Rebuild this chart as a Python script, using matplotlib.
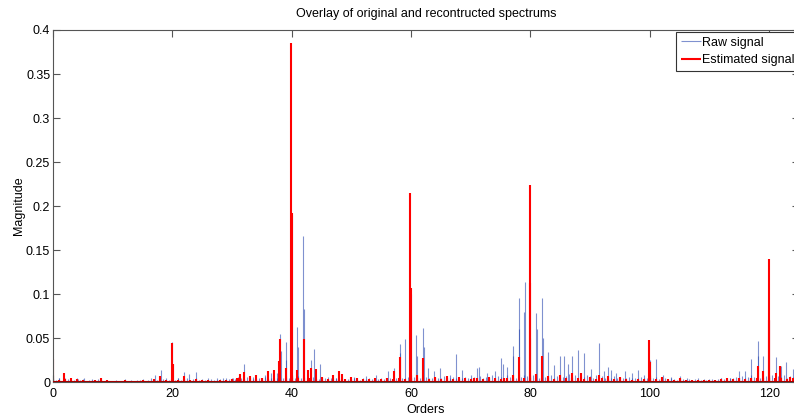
import matplotlib
matplotlib.use('Agg')
import matplotlib.pyplot as plt
import numpy as np

plt.rcParams['font.family'] = ['Liberation Sans', 'DejaVu Sans']
plt.rcParams['font.size'] = 9

# raw signal: noise floor every 0.5 order (in 1e-3 units), then the visible spikes
raw_floor_milli = [
    3, 2, 4, 1, 2, 3, 1, 2, 4, 2, 3, 1, 2, 2, 1, 3, 2, 1, 2, 1,
    1, 2, 1, 1, 2, 1, 2, 1, 1, 2, 3, 1, 2, 4, 3, 2, 5, 3, 4, 2,
    3, 2, 4, 2, 3, 5, 2, 3, 4, 2, 3, 2, 2, 3, 2, 2, 3, 4, 2, 3,
    4, 3, 5, 4, 3, 6, 4, 3, 5, 4, 3, 6, 5, 4, 3, 5, 6, 4, 7, 5,
    6, 5, 7, 4, 6, 5, 4, 6, 5, 3, 4, 5, 3, 4, 3, 4, 3, 4, 2, 3,
    3, 4, 3, 2, 4, 3, 4, 3, 5, 3, 4, 3, 4, 5, 3, 4, 6, 5, 4, 6,
    5, 6, 7, 5, 4, 6, 5, 4, 6, 5, 4, 7, 5, 4, 6, 5, 4, 5, 6, 4,
    5, 6, 4, 7, 5, 6, 4, 8, 5, 7, 6, 5, 8, 6, 7, 5, 9, 6, 8, 7,
    6, 8, 7, 5, 9, 6, 7, 8, 5, 7, 8, 6, 7, 9, 6, 8, 5, 7, 6, 8,
    7, 5, 8, 6, 7, 5, 6, 4, 7, 5, 6, 4, 5, 6, 4, 5, 4, 6, 5, 4,
    5, 4, 6, 3, 4, 5, 3, 4, 3, 2, 4, 3, 2, 3, 2, 3, 2, 2, 3, 2,
    2, 3, 2, 3, 4, 3, 4, 5, 4, 6, 5, 7, 5, 6, 8, 6, 7, 5, 6, 7,
    6, 8, 5, 7, 6, 8, 5, 7, 6, 5,
]
raw_peak_orders = [
    0.0, 1.0, 2.0, 4.2, 5.2, 6.5, 8.1, 12.0, 14.0, 17.1,
    18.1, 19.9, 20.05, 21.0, 21.9, 22.8, 23.9, 26.0, 27.5, 29.0,
    30.2, 31.0, 32.0, 33.5, 35.5, 36.6, 37.5, 38.0, 38.2, 39.0,
    39.1, 40.0, 40.9, 41.0, 41.9, 42.0, 43.2, 43.8, 44.7, 46.0,
    47.5, 48.5, 50.5, 52.5, 54.1, 56.1, 57.1, 58.1, 58.2, 59.0,
    60.0, 60.9, 61.0, 62.0, 62.1, 62.9, 63.8, 64.9, 66.5, 67.6,
    68.6, 70.0, 71.1, 71.4, 72.8, 74.0, 75.0, 75.4, 76.0, 77.0,
    77.1, 78.0, 78.1, 79.1, 79.0, 80.0, 81.0, 81.1, 82.0, 82.1,
    82.9, 83.9, 84.9, 85.6, 86.3, 87.0, 88.0, 89.0, 90.2, 91.5,
    92.4, 93.0, 93.5, 94.4, 95.9, 97.0, 98.0, 99.0, 100.0, 101.0,
    102.2, 103.5, 105.0, 106.3, 108.0, 110.0, 112.0, 113.5, 115.0, 115.9,
    117.0, 118.1, 118.2, 119.0, 120.0, 121.1, 122.0, 122.9, 124.0,
]
raw_peak_mags = [
    0.005, 0.004, 0.005, 0.003, 0.005, 0.003, 0.005, 0.003, 0.002, 0.008,
    0.014, 0.046, 0.020, 0.004, 0.011, 0.009, 0.011, 0.004, 0.004, 0.005,
    0.005, 0.006, 0.020, 0.006, 0.008, 0.010, 0.010, 0.055, 0.035, 0.045,
    0.025, 0.190, 0.063, 0.040, 0.166, 0.083, 0.025, 0.038, 0.021, 0.006,
    0.005, 0.006, 0.006, 0.007, 0.008, 0.012, 0.016, 0.043, 0.033, 0.049,
    0.100, 0.053, 0.030, 0.061, 0.040, 0.016, 0.012, 0.016, 0.008, 0.032,
    0.014, 0.008, 0.016, 0.017, 0.010, 0.012, 0.027, 0.020, 0.017, 0.041,
    0.030, 0.095, 0.060, 0.114, 0.080, 0.050, 0.078, 0.060, 0.095, 0.050,
    0.034, 0.019, 0.029, 0.030, 0.020, 0.030, 0.036, 0.033, 0.015, 0.044,
    0.012, 0.017, 0.014, 0.010, 0.013, 0.010, 0.014, 0.008, 0.025, 0.026,
    0.008, 0.006, 0.007, 0.005, 0.004, 0.003, 0.004, 0.005, 0.012, 0.013,
    0.026, 0.047, 0.030, 0.030, 0.070, 0.028, 0.018, 0.023, 0.015,
]

# estimated signal: floor every order (in 1e-3 units), then the spikes
est_floor_milli = [
    2, 2, 3, 2, 3, 2, 1, 2, 2, 2,
    1, 1, 2, 1, 1, 2, 1, 3, 2, 2,
    3, 2, 3, 2, 3, 2, 2, 1, 2, 2,
    3, 4, 3, 4, 3, 4, 3, 4, 3, 5,
    4, 5, 4, 5, 3, 4, 3, 4, 3, 3,
    3, 2, 3, 3, 2, 3, 4, 3, 4, 3,
    4, 5, 4, 3, 4, 3, 4, 3, 3, 4,
    3, 4, 3, 4, 4, 3, 5, 4, 3, 4,
    5, 4, 4, 5, 3, 4, 5, 4, 4, 3,
    4, 3, 4, 3, 3, 4, 3, 2, 3, 3,
    4, 3, 5, 3, 2, 3, 2, 2, 2, 2,
    2, 2, 3, 2, 3, 4, 3, 4, 5, 4,
    5, 4, 4, 3, 4,
]
est_peak_orders = [
    0.0, 1.8, 3.0, 8.1, 17.9, 19.9, 20.05, 21.9, 30.9, 31.4,
    32.0, 33.0, 34.0, 35.0, 36.1, 37.1, 37.9, 38.0, 39.0, 39.95,
    40.05, 40.9, 42.0, 42.8, 43.3, 44.0, 45.0, 46.9, 48.0, 48.4,
    50.0, 51.0, 54.0, 56.0, 57.1, 58.1, 59.9, 60.05, 61.0, 62.0,
    64.0, 66.0, 68.0, 70.5, 73.0, 75.5, 77.0, 78.0, 79.9, 80.0,
    81.0, 82.0, 83.0, 85.0, 87.0, 88.5, 90.0, 91.5, 93.0, 95.0,
    99.9, 100.05, 102.0, 105.0, 113.0, 115.0, 117.0, 118.1, 119.0, 119.95,
    120.05, 121.1, 121.9, 123.5,
]
est_peak_mags = [
    0.026, 0.010, 0.004, 0.004, 0.007, 0.044, 0.021, 0.007, 0.005, 0.009,
    0.011, 0.007, 0.008, 0.005, 0.013, 0.014, 0.024, 0.049, 0.016, 0.385,
    0.192, 0.014, 0.049, 0.014, 0.016, 0.015, 0.006, 0.008, 0.012, 0.009,
    0.006, 0.005, 0.005, 0.005, 0.012, 0.028, 0.215, 0.107, 0.008, 0.027,
    0.006, 0.007, 0.006, 0.005, 0.006, 0.005, 0.008, 0.028, 0.112, 0.224,
    0.009, 0.029, 0.007, 0.008, 0.010, 0.010, 0.006, 0.008, 0.007, 0.006,
    0.048, 0.023, 0.006, 0.004, 0.004, 0.005, 0.004, 0.018, 0.012, 0.140,
    0.070, 0.010, 0.018, 0.006,
]

x_ticks = [0, 20, 40, 60, 80, 100, 120]
y_ticks = [0, 0.05, 0.1, 0.15, 0.2, 0.25, 0.3, 0.35, 0.4]
y_tick_labels = ['0', '0.05', '0.1', '0.15', '0.2', '0.25', '0.3', '0.35', '0.4']

raw_x = np.concatenate([np.arange(len(raw_floor_milli)) * 0.5, raw_peak_orders])
raw_y = np.concatenate([np.array(raw_floor_milli) / 1000.0, raw_peak_mags])
est_x = np.concatenate([np.arange(len(est_floor_milli)), est_peak_orders])
est_y = np.concatenate([np.array(est_floor_milli) / 1000.0, est_peak_mags])

fig = plt.figure(figsize=(7.94, 4.19), dpi=100)
ax = fig.add_axes([53 / 794, 1 - 382 / 419, 746 / 794, 352 / 419])

ax.vlines(raw_x, 0, raw_y, colors='#2a48b0', linewidth=0.8, alpha=0.6,
          label='Raw signal')
ax.vlines(est_x, 0, est_y, colors='#ff0000', linewidth=1.5,
          label='Estimated signal')
ax.axhline(0, color='#a00000', linewidth=1.5, zorder=3)

ax.set_xlim(0, 125)
ax.set_ylim(0, 0.4)
ax.set_xticks(x_ticks)
ax.set_yticks(y_ticks)
ax.set_yticklabels(y_tick_labels)

ax.tick_params(direction='in', top=True, right=True, length=5, width=0.8,
               color='#555555', labelsize=9)
ax.tick_params(axis='x', pad=4)
ax.tick_params(axis='y', pad=2)
for s in ax.spines.values():
    s.set_color('#555555')
    s.set_linewidth(0.8)

ax.set_title('Overlay of original and recontructed spectrums', fontsize=9, pad=9)
ax.set_xlabel('Orders', fontsize=9, labelpad=3)
ax.set_ylabel('Magnitude', fontsize=9, labelpad=1)

leg = ax.legend(loc='upper left', bbox_to_anchor=(0.8355, 0.995), borderaxespad=0,
                fontsize=9, frameon=True, fancybox=False, framealpha=1,
                edgecolor='#333333', handlelength=1.6, handletextpad=0.05,
                borderpad=0.4, labelspacing=0.45)
leg.get_frame().set_linewidth(0.8)

plt.savefig('out.png', dpi=100)
